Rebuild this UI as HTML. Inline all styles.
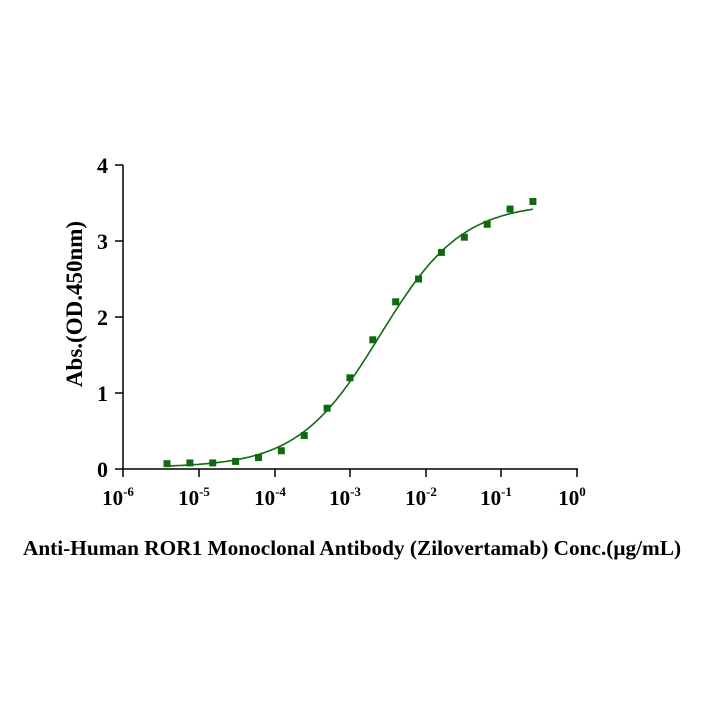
<!DOCTYPE html>
<html><head><meta charset="utf-8"><style>
html,body{margin:0;padding:0;background:#fff;width:704px;height:704px;overflow:hidden}
svg text{font-family:"Liberation Serif",serif;font-weight:bold;fill:#000}
</style></head><body>
<svg id="s" width="704" height="704" viewBox="0 0 704 704" xmlns="http://www.w3.org/2000/svg">
<g stroke="#000" stroke-width="1.5" fill="none">
<line x1="123" y1="165" x2="123" y2="469"/>
<line x1="123" y1="469" x2="578" y2="469"/>
<line x1="115" y1="165" x2="123" y2="165"/>
<line x1="115" y1="241" x2="123" y2="241"/>
<line x1="115" y1="317" x2="123" y2="317"/>
<line x1="115" y1="393" x2="123" y2="393"/>
<line x1="115" y1="469" x2="123" y2="469"/>
<line x1="123" y1="469" x2="123" y2="477"/>
<line x1="199" y1="469" x2="199" y2="477"/>
<line x1="275" y1="469" x2="275" y2="477"/>
<line x1="350" y1="469" x2="350" y2="477"/>
<line x1="426" y1="469" x2="426" y2="477"/>
<line x1="501" y1="469" x2="501" y2="477"/>
<line x1="577" y1="469" x2="577" y2="477"/>
</g>
<g font-size="22" text-anchor="end">
<text x="108" y="173">4</text><text x="108" y="249">3</text><text x="108" y="325">2</text><text x="108" y="401">1</text><text x="108" y="477">0</text>
</g>
<g font-size="21" text-anchor="middle">
<text x="118" y="505">10<tspan font-size="13" dy="-9">-6</tspan></text>
<text x="194" y="505">10<tspan font-size="13" dy="-9">-5</tspan></text>
<text x="270" y="505">10<tspan font-size="13" dy="-9">-4</tspan></text>
<text x="345" y="505">10<tspan font-size="13" dy="-9">-3</tspan></text>
<text x="421" y="505">10<tspan font-size="13" dy="-9">-2</tspan></text>
<text x="496" y="505">10<tspan font-size="13" dy="-9">-1</tspan></text>
<text x="572" y="505">10<tspan font-size="13" dy="-9">0</tspan></text>
</g>
<text x="352" y="555" font-size="21.3" text-anchor="middle">Anti-Human ROR1 Monoclonal Antibody (Zilovertamab) Conc.(μg/mL)</text>
<text transform="translate(82,304) rotate(-90)" font-size="23" text-anchor="middle">Abs.(OD.450nm)</text>
<path id="c" fill="none" stroke="#0f6a0f" stroke-width="1.6"/>
<g id="p" fill="#0f6a0f"></g>
</svg>
<script>
var Y=function(v){return 469-v*76};
var d="";for(var i=0;i<=200;i++){var px=167+i*(533-167)/200,l=(px-123)/75.6-6;
var v=0.02+3.48/(1+Math.pow(10,(-2.6-l)*0.8));d+=(i?"L":"M")+px.toFixed(1)+","+Y(v).toFixed(1);}
document.getElementById("c").setAttribute("d",d);
var vals=[0.07,0.08,0.08,0.1,0.15,0.24,0.44,0.8,1.2,1.7,2.2,2.5,2.85,3.05,3.22,3.42,3.52],g=document.getElementById("p"),h="";
for(var k=0;k<vals.length;k++){var px=167+k*22.87;h+='<rect x="'+(px-3.5)+'" y="'+(Y(vals[k])-3.5)+'" width="7" height="7"/>';}
g.innerHTML=h;
</script>
</body></html>
